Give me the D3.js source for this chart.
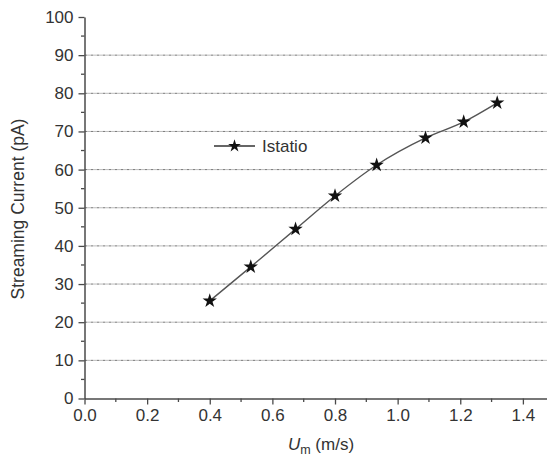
<!DOCTYPE html>
<html>
<head>
<meta charset="utf-8">
<script src="https://cdn.jsdelivr.net/npm/d3@7"></script>
<style>
  html, body { margin: 0; padding: 0; background: #fff; }
  svg { display: block; }
  text { font-family: Arial, "Liberation Sans", Helvetica, sans-serif; fill: #333; }
</style>
</head>
<body>
<svg id="chart" width="547" height="460"></svg>
<script>
const velocity = [0.40, 0.531, 0.674, 0.800, 0.933, 1.089, 1.211, 1.318];
const current = [25.6, 34.5, 44.4, 53.1, 61.2, 68.3, 72.5, 77.5];
const seriesName = "Istatio";
const xTicks = [0, 0.2, 0.4, 0.6, 0.8, 1.0, 1.2, 1.4];
const xMinor = [0.1, 0.3, 0.5, 0.7, 0.9, 1.1, 1.3];
const yTicks = [0, 10, 20, 30, 40, 50, 60, 70, 80, 90, 100];
const yMinor = [5, 15, 25, 35, 45, 55, 65, 75, 85, 95];
const yGrid = [10, 20, 30, 40, 50, 60, 70, 80, 90];

const svg = d3.select("#chart");
const mLeft = 84.5, mRight = 547, mTop = 17, mBottom = 398.5;
const x = d3.scaleLinear().domain([0, 1.477]).range([mLeft, mRight]);
const y = d3.scaleLinear().domain([0, 100]).range([mBottom, mTop]);
const axisColor = "#4a4a4a";
const fs = "17px";

// grid
svg.append("g").selectAll("line").data(yGrid).join("line")
  .attr("x1", mLeft).attr("x2", mRight)
  .attr("y1", d => y(d)).attr("y2", d => y(d))
  .attr("stroke", "#777").attr("stroke-width", 1)
  .attr("stroke-dasharray", "3,1,1,1");

// x axis
const xAxis = svg.append("g").attr("transform", `translate(0,${mBottom})`)
  .call(d3.axisBottom(x).tickValues(xTicks).tickFormat(d3.format(".1f")).tickSize(6).tickSizeOuter(0).tickPadding(4));
xAxis.select(".domain").attr("stroke", axisColor).attr("stroke-width", 1.5);
xAxis.selectAll(".tick line").attr("stroke", axisColor).attr("stroke-width", 1.3);
xAxis.selectAll(".tick text").style("font-size", fs).attr("fill", "#333");
xAxis.append("g").selectAll("line").data(xMinor).join("line")
  .attr("x1", d => x(d)).attr("x2", d => x(d)).attr("y1", 0).attr("y2", 3.5)
  .attr("stroke", axisColor).attr("stroke-width", 1.3);

// y axis
const yAxis = svg.append("g").attr("transform", `translate(${mLeft},0)`)
  .call(d3.axisLeft(y).tickValues(yTicks).tickSize(6).tickSizeOuter(0).tickPadding(5));
yAxis.select(".domain").attr("stroke", axisColor).attr("stroke-width", 1.5);
yAxis.selectAll(".tick line").attr("stroke", axisColor).attr("stroke-width", 1.3);
yAxis.selectAll(".tick text").style("font-size", fs).attr("fill", "#333");
yAxis.append("g").selectAll("line").data(yMinor).join("line")
  .attr("y1", d => y(d)).attr("y2", d => y(d)).attr("x1", 0).attr("x2", -3.5)
  .attr("stroke", axisColor).attr("stroke-width", 1.3);

// axis labels
svg.append("text")
  .attr("transform", `translate(24,${(118 + 300) / 2}) rotate(-90)`)
  .attr("text-anchor", "middle")
  .style("font-size", "17.5px")
  .text("Streaming Current (pA)");

const xl = svg.append("text")
  .attr("x", 321).attr("y", 450)
  .attr("text-anchor", "middle")
  .style("font-size", fs);
xl.append("tspan").style("font-style", "italic").text("U");
xl.append("tspan").attr("dy", 4).style("font-size", "12.5px").text("m");
xl.append("tspan").attr("dy", -4).text(" (m/s)");

// series
const pts = velocity.map((v, i) => [v, current[i]]);
svg.append("path").datum(pts)
  .attr("fill", "none").attr("stroke", "#555").attr("stroke-width", 1.4)
  .attr("d", d3.line().x(d => x(d[0])).y(d => y(d[1])).curve(d3.curveMonotoneX));

const star = d3.symbol().type(d3.symbolStar).size(64);
svg.append("g").selectAll("path").data(pts).join("path")
  .attr("transform", d => `translate(${x(d[0])},${y(d[1])})`)
  .attr("d", star).attr("fill", "#111");

// legend
const ly = 146;
svg.append("line").attr("x1", 214).attr("x2", 255).attr("y1", ly).attr("y2", ly)
  .attr("stroke", "#333").attr("stroke-width", 1.5);
svg.append("path").attr("transform", `translate(234.5,${ly})`).attr("d", d3.symbol().type(d3.symbolStar).size(50)).attr("fill", "#111");
svg.append("text").attr("x", 262).attr("y", ly + 6).style("font-size", fs).text(seriesName);
</script>
</body>
</html>
